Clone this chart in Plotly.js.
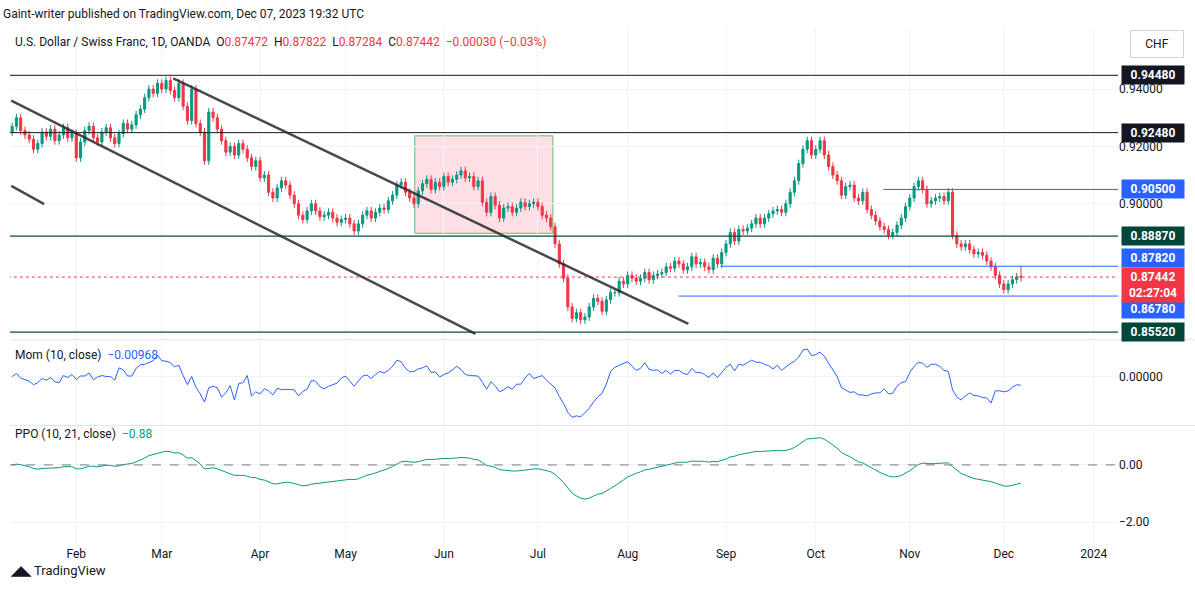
<!DOCTYPE html>
<html>
<head>
<meta charset="utf-8">
<script src="https://cdn.plot.ly/plotly-3.0.1.min.js"></script>
<style>
  body { margin: 0; background: #fff; font-family: Roboto, "Noto Sans", sans-serif; }
  #chart { width: 1195px; height: 589px; }
</style>
</head>
<body>
<div id="chart"></div>
<script>
// daily closes
const closesJan = [0.9270,0.9300,0.9255,0.9240,0.9225,0.9190,0.9210,0.9250,0.9235,0.9260,0.9220,0.9240,0.9265,0.9230,0.9245];
const closesFeb = [0.9160,0.9215,0.9255,0.9270,0.9230,0.9215,0.9250,0.9265,0.9230,0.9210,0.9245,0.9280,0.9260,0.9275,0.9310,0.9330,0.9370,0.9400,0.9385,0.9420];
const closesMar = [0.9400,0.9430,0.9395,0.9370,0.9420,0.9340,0.9290,0.9400,0.9280,0.9250,0.9150,0.9320,0.9300,0.9260,0.9220,0.9180,0.9200,0.9170,0.9210,0.9190,0.9160,0.9130,0.9150];
const closesApr = [0.9090,0.9100,0.9040,0.9020,0.9055,0.9080,0.9065,0.9030,0.9000,0.8960,0.8945,0.8975,0.9000,0.8975,0.8955,0.8960,0.8970,0.8950,0.8935,0.8945];
const closesMay = [0.8950,0.8930,0.8905,0.8930,0.8960,0.8975,0.8950,0.8970,0.8985,0.8980,0.9010,0.9030,0.9065,0.9075,0.9040,0.9020,0.9000,0.9045,0.9070,0.9085,0.9050,0.9075,0.9060];
const closesJun = [0.9095,0.9075,0.9085,0.9100,0.9115,0.9090,0.9095,0.9060,0.9080,0.9005,0.8970,0.9025,0.8995,0.8950,0.8985,0.8990,0.8970,0.8985,0.9005,0.8990,0.9000,0.9005];
const closesJul = [0.8990,0.8960,0.8950,0.8920,0.8860,0.8790,0.8740,0.8640,0.8600,0.8620,0.8595,0.8605,0.8640,0.8670,0.8660,0.8625,0.8665,0.8690,0.8690,0.8730,0.8720];
const closesAug = [0.8750,0.8740,0.8730,0.8740,0.8760,0.8735,0.8750,0.8755,0.8760,0.8780,0.8775,0.8800,0.8790,0.8770,0.8780,0.8815,0.8790,0.8795,0.8780,0.8770,0.8810,0.8790,0.8830];
const closesSep = [0.8860,0.8900,0.8870,0.8910,0.8905,0.8915,0.8930,0.8950,0.8930,0.8950,0.8965,0.8975,0.8980,0.8970,0.9000,0.9040,0.9080,0.9140,0.9190,0.9220,0.9170];
const closesOct = [0.9190,0.9220,0.9170,0.9130,0.9100,0.9080,0.9030,0.9060,0.9065,0.9020,0.9010,0.9040,0.8980,0.8960,0.8940,0.8920,0.8910,0.8890,0.8900,0.8925,0.8950,0.8990];
const closesNov = [0.9020,0.9060,0.9080,0.9050,0.9000,0.9010,0.9020,0.9025,0.9010,0.9040,0.8890,0.8860,0.8850,0.8860,0.8840,0.8825,0.8830,0.8820,0.8800,0.8780,0.8750,0.8720];
const closesDec = [0.8700,0.8720,0.8735,0.8745,0.8744];
const lastBar = { o: 0.87472, h: 0.87822, l: 0.87284, c: 0.87442 };

const levelsBlack = [0.9448, 0.9248];
const levelsGreen = [0.8887, 0.8552];
const levelsBlue = [[0.9050, 203.8], [0.8782, 165.7], [0.8678, 155.9]]; // price, start index
const monthNames = ['Jan','Feb','Mar','Apr','May','Jun','Jul','Aug','Sep','Oct','Nov','Dec'];

const closes = [].concat(closesJan, closesFeb, closesMar, closesApr, closesMay, closesJun,
  closesJul, closesAug, closesSep, closesOct, closesNov, closesDec);

// trading days (weekdays) from Jan 11 2023 out to mid Jan 2024
const days = [];
for (let d = new Date(Date.UTC(2023, 0, 11)); d < new Date(Date.UTC(2024, 0, 13)); d.setUTCDate(d.getUTCDate() + 1)) {
  const w = d.getUTCDay();
  if (w !== 0 && w !== 6) days.push(new Date(d));
}

const n = closes.length;
const idx = closes.map((_, i) => i);
const opens = closes.map((c, i) => i === 0 ? 0.9250 : closes[i - 1]);
const highs = closes.map((c, i) => Math.max(c, opens[i]) + 0.0014);
const lows = closes.map((c, i) => Math.min(c, opens[i]) - 0.0014);
opens[n - 1] = lastBar.o; highs[n - 1] = lastBar.h; lows[n - 1] = lastBar.l; closes[n - 1] = lastBar.c;

// indicators
const mom = closes.map((c, i) => c - closes[Math.max(0, i - 10)]);
function ema(arr, p) {
  const k = 2 / (p + 1); let e = arr[0];
  return arr.map(v => (e = v * k + e * (1 - k)));
}
const e10 = ema(closes, 10), e21 = ema(closes, 21);
const ppo = e10.map((v, i) => (v - e21[i]) / e21[i] * 100);

// month ticks
const tickvals = [], ticktext = [];
days.forEach((d, i) => {
  if (i > 0 && d.getUTCMonth() !== days[i - 1].getUTCMonth()) {
    tickvals.push(i);
    ticktext.push(d.getUTCMonth() === 0 ? String(d.getUTCFullYear()) : monthNames[d.getUTCMonth()]);
  }
});

const XMAX = 258.7;
const up = '#089981', down = '#f23645';

const traces = [
  { type: 'candlestick', x: idx, open: opens, high: highs, low: lows, close: closes,
    increasing: { line: { color: up, width: 1 }, fillcolor: up },
    decreasing: { line: { color: down, width: 1 }, fillcolor: down },
    whiskerwidth: 0, xaxis: 'x', yaxis: 'y', hoverinfo: 'skip' },
  { type: 'scatter', mode: 'lines', x: idx, y: mom, line: { color: '#2962ff', width: 1 },
    xaxis: 'x', yaxis: 'y2', hoverinfo: 'skip' },
  { type: 'scatter', mode: 'lines', x: idx, y: ppo, line: { color: '#089981', width: 1 },
    xaxis: 'x', yaxis: 'y3', hoverinfo: 'skip' }
];

const shapes = [];
const annotations = [];
function hline(y, x0, color, yref, dash, w) {
  shapes.push({ type: 'line', xref: 'x', yref: yref || 'y', x0: x0, x1: XMAX, y0: y, y1: y,
    line: { color: color, width: w || 1, dash: dash || 'solid' } });
}
function tag(y, text, bg, color, yshift) {
  annotations.push({ xref: 'paper', yref: 'y', x: 1.003, y: y, xanchor: 'left', yanchor: 'middle',
    text: '<b>' + text + '</b>', showarrow: false, bgcolor: bg, font: { color: color || '#fff', size: 12 },
    borderpad: 2, yshift: yshift || 0, width: 58, align: 'center' });
}
levelsBlack.forEach(v => { hline(v, -1, '#131722'); tag(v, v.toFixed(5), '#131722'); });
levelsGreen.forEach(v => { hline(v, -1, '#004d40', 'y', 'solid', 1.3); tag(v, v.toFixed(5), '#00473b'); });
levelsBlue.forEach(([v, s]) => { hline(v, s, '#2962ff'); });
tag(0.9050, '0.90500', '#2962ff');
tag(0.8782, '0.87820', '#2962ff', '#fff', 8);
tag(0.8678, '0.86780', '#2962ff', '#fff', -13);
hline(lastBar.c, -1, '#f23645', 'y', 'dot');
tag(lastBar.c, '0.87442<br>02:27:04', '#f23645', '#fff', -8);

// channel lines and box
const seg = (x0, y0, x1, y1, w) => shapes.push({ type: 'line', xref: 'x', yref: 'y', x0, y0, x1, y1,
  line: { color: 'rgba(40,40,48,0.85)', width: w || 2.5 } });
seg(37.7, 0.9437, 158.2, 0.8581);
seg(-0.2, 0.9360, 108.4, 0.8546);
seg(-0.2, 0.9062, 7.5, 0.8999);
shapes.push({ type: 'rect', xref: 'x', yref: 'y', x0: 94.2, x1: 126.5, y0: 0.8897, y1: 0.9237,
  fillcolor: 'rgba(242,54,93,0.16)', line: { color: '#66bb6a', width: 1 }, layer: 'below' });
// PPO zero line
hline(0, -1, '#787b86', 'y3', 'dash');
// pane separators
[0.397, 0.231].forEach(p => shapes.push({ type: 'line', xref: 'paper', yref: 'paper', x0: 0, x1: 1.07,
  y0: p, y1: p, line: { color: '#e0e3eb', width: 1 } }));

// text labels
const txt = (x, y, t, size, anchor) => annotations.push({ xref: 'paper', yref: 'paper', x, y,
  xanchor: anchor || 'left', yanchor: 'middle', text: t, showarrow: false,
  font: { size: size || 12, color: '#131722' } });
txt(-0.008, 1.027, 'Gaint-writer published on TradingView.com, Dec 07, 2023 19:32 UTC', 12);
txt(0.003, 0.973, 'U.S. Dollar / Swiss Franc, 1D, OANDA  O<span style="color:#f23645">0.87472</span>  H<span style="color:#f23645">0.87822</span>  L<span style="color:#f23645">0.87284</span>  C<span style="color:#f23645">0.87442</span>  <span style="color:#f23645">−0.00030 (−0.03%)</span>', 12);
txt(0.003, 0.367, 'Mom (10, close)  <span style="color:#2962ff">−0.00968</span>', 12);
txt(0.003, 0.214, 'PPO (10, 21, close)  <span style="color:#089981">−0.88</span>', 12);
annotations.push({ xref: 'paper', yref: 'paper', x: 1.035, y: 0.97, xanchor: 'center', yanchor: 'middle',
  text: 'CHF', showarrow: false, font: { size: 12, color: '#131722' }, bordercolor: '#d1d4dc',
  borderwidth: 1, borderpad: 6, width: 40 });
txt(-0.002, -0.05, '<b>◢◣</b> TradingView', 13);

const grid = '#f0f3fa';
const layout = {
  width: 1195, height: 589,
  margin: { l: 10, r: 77, t: 28, b: 44 },
  paper_bgcolor: '#fff', plot_bgcolor: '#fff',
  showlegend: false,
  font: { family: 'Roboto, "Noto Sans", sans-serif', size: 12, color: '#131722' },
  xaxis: { range: [-0.5, XMAX], tickvals, ticktext, showgrid: true, gridcolor: grid,
    zeroline: false, rangeslider: { visible: false }, ticks: '', anchor: 'y3',
    tickfont: { size: 12, color: '#131722' } },
  yaxis: { domain: [0.40, 1], range: [0.8531, 0.9613], side: 'right', showgrid: true, gridcolor: grid,
    tickvals: [0.90, 0.92, 0.94], tickformat: '.5f', zeroline: false, ticks: '',
    tickfont: { size: 12, color: '#131722' } },
  yaxis2: { domain: [0.233, 0.395], range: [-0.047, 0.035], side: 'right', showgrid: true, gridcolor: grid,
    tickvals: [0], ticktext: ['0.00000'], zeroline: false },
  yaxis3: { domain: [0, 0.229], range: [-2.8, 1.34], side: 'right', showgrid: true, gridcolor: grid,
    tickvals: [0, -2], ticktext: ['0.00', '−2.00'], zeroline: false },
  shapes, annotations
};

Plotly.newPlot('chart', traces, layout, { displayModeBar: false, staticPlot: true });
</script>
</body>
</html>
